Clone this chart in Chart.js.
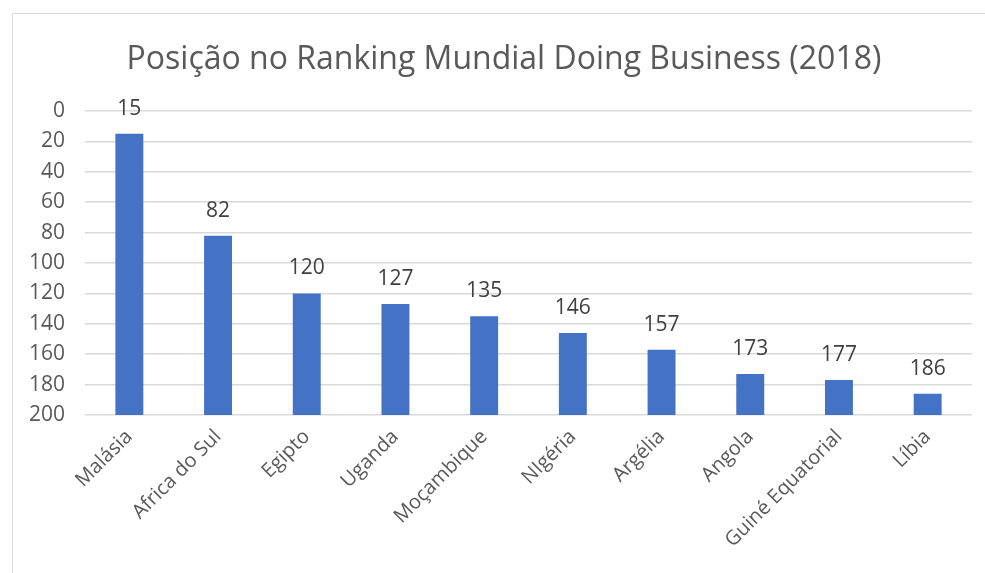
<!DOCTYPE html>
<html>
<head>
<meta charset="utf-8">
<script src="https://cdn.jsdelivr.net/npm/chart.js@4/dist/chart.umd.min.js"></script>
<style>
  body { margin: 0; background: #fff; overflow: hidden; }
  .frame { position: absolute; left: 12px; top: 13px; width: 1000px; height: 600px; border: 1px solid #d9d9d9; }
  .wrap { position: absolute; left: 0; top: 0; width: 985px; height: 573px; }
</style>
</head>
<body>
<div class="frame"></div>
<div class="wrap"><canvas id="chart"></canvas></div>
<script>
const countries = ["Malásia", "Africa do Sul", "Egipto", "Uganda", "Moçambique", "NIgéria", "Argélia", "Angola", "Guiné Equatorial", "Líbia"];
const ranking = [15, 82, 120, 127, 135, 146, 157, 173, 177, 186];
const rankMax = 200;
const chartTitle = "Posição no Ranking Mundial Doing Business (2018)";

const font = "'Open Sans', sans-serif";

// title centred on the whole frame, like the Excel original
const frameTitle = {
  id: "frameTitle",
  afterDraw(chart) {
    const ctx = chart.ctx;
    ctx.save();
    ctx.font = "32px " + font;
    ctx.fillStyle = "#595959";
    ctx.textAlign = "center";
    ctx.textBaseline = "middle";
    ctx.fillText(chartTitle, 504, 60);
    ctx.restore();
  }
};

// numbers above each bar
const valueLabels = {
  id: "valueLabels",
  afterDatasetsDraw(chart) {
    const ctx = chart.ctx;
    const meta = chart.getDatasetMeta(0);
    ctx.save();
    ctx.font = "21px " + font;
    ctx.fillStyle = "#404040";
    ctx.textAlign = "center";
    ctx.textBaseline = "middle";
    meta.data.forEach((bar, i) => {
      const y = chart.scales.y.getPixelForValue(ranking[i]);
      ctx.fillText(ranking[i], bar.x, y - 25);
    });
    ctx.restore();
  }
};

new Chart(document.getElementById("chart"), {
  type: "bar",
  data: {
    labels: countries,
    datasets: [{
      data: ranking.map(v => [v, rankMax]),
      backgroundColor: "#4472c4",
      barPercentage: 0.315,
      categoryPercentage: 1
    }]
  },
  options: {
    responsive: true,
    maintainAspectRatio: false,
    animation: false,
    layout: { padding: { left: 0, right: 13, top: 111, bottom: 0 } },
    plugins: {
      legend: { display: false },
      tooltip: { enabled: false },
      title: { display: false }
    },
    scales: {
      x: {
        grid: { display: false },
        border: { display: false },
        ticks: {
          color: "#595959",
          font: { family: font, size: 20 },
          minRotation: 45,
          maxRotation: 45,
          padding: 2
        },
        afterFit(scale) { scale.height = 158; }
      },
      y: {
        reverse: true,
        min: 0,
        max: rankMax,
        ticks: {
          stepSize: 20,
          color: "#595959",
          font: { family: font, size: 21 },
          padding: 20
        },
        grid: { color: "#d9d9d9", lineWidth: 1.5, drawTicks: false },
        border: { display: false },
        afterFit(scale) { scale.width = 85; }
      }
    }
  },
  plugins: [valueLabels, frameTitle]
});
</script>
</body>
</html>
